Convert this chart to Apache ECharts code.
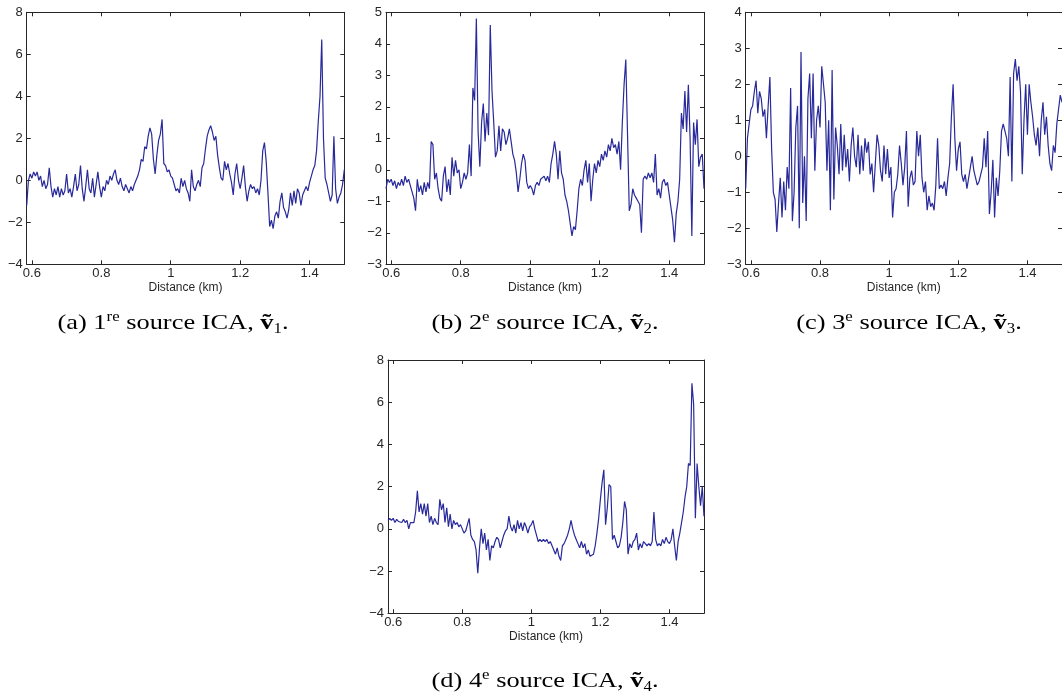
<!DOCTYPE html>
<html><head><meta charset="utf-8">
<script src="https://cdn.jsdelivr.net/npm/echarts@6/dist/echarts.min.js"></script>
<style>html,body{margin:0;padding:0;background:#fff}#c{width:1062px;height:694px}</style>
</head><body><div id="c"></div>
<script>
// ---- data ----
const distanceStart = 0.585;   // km, first sample
const distanceStep = 0.005;    // km between samples
const xTickValues = [0.6, 0.8, 1.0, 1.2, 1.4];
const xAxisName = 'Distance (km)';

const source1 = [
 -1.2, 0.0, 0.3, 0.1, 0.4, 0.2, 0.4, 0.0, 0.2, -0.3, 0.0, -0.4, -0.2, 0.6, -0.3, -0.8, -0.4, -0.7, -0.3, -0.8,
 -0.4, -0.7, -0.5, 0.3, -0.6, -0.4, -0.8, -0.3, 0.3, -0.5, -0.2, 0.7, -0.4, -1.0, -0.3, 0.5, -0.4, -0.6, 0.1, -0.8,
 -0.2, 0.4, -0.3, -0.8, -0.3, -0.5, 0.0, -0.2, 0.2, 0.0, 0.3, 0.5, 0.0, -0.2, 0.1, -0.3, -0.5, -0.2, -0.4, -0.6,
 -0.3, -0.5, -0.2, 0.0, 0.2, 0.5, 1.0, 0.9, 1.6, 1.5, 2.1, 2.5, 2.2, 1.0, 0.3, 1.2, 1.9, 2.2, 2.9, 0.8,
 0.7, 0.4, 0.5, 0.2, 0.1, -0.2, -0.5, -0.4, -0.6, 0.1, -0.3, 0.0, -0.4, -0.6, -1.0, 0.5, -0.3, -0.5, -0.2, 0.0,
 -0.3, 0.6, 0.8, 1.5, 2.1, 2.4, 2.6, 2.3, 1.9, 2.1, 1.2, 0.6, 0.1, 0.0, 0.9, 0.5, 0.8, 0.3, -0.1, -0.7,
 0.3, 0.8, 0.0, -0.4, 0.1, 0.7, -0.3, -1.0, -0.5, -0.2, -0.4, -0.3, -0.6, -0.4, -0.7, 0.0, 1.4, 1.8, 0.9, -0.6,
 -2.2, -1.9, -2.3, -1.7, -1.5, -1.8, -1.0, -0.6, -1.3, -1.5, -1.8, -1.4, -0.6, -1.2, -0.5, -1.1, -0.4, -0.6, -1.2, -0.7,
 -0.5, -0.3, -0.5, -0.1, 0.2, 0.5, 0.7, 1.4, 2.8, 4.0, 6.7, 2.0, 0.1, -0.2, -0.6, -1.0, -0.7, 2.1, -0.4, -1.1,
 -0.8, -0.6, -0.2, 0.5
];
const source2 = [
 -0.6, -0.3, -0.4, -0.3, -0.5, -0.35, -0.6, -0.4, -0.5, -0.3, -0.5, -0.2, -0.4, -0.3, -0.5, -0.7, -0.9, -1.3, -0.3, -0.7,
 -0.5, -0.8, -0.4, -0.7, -0.4, -0.6, 0.9, 0.8, -0.3, -0.1, -0.6, -0.9, -1.0, -0.2, 0.1, -0.7, -0.3, -0.8, 0.4, -0.2,
 0.3, -0.1, 0.0, -0.6, -0.4, -0.1, -0.3, -0.1, 0.8, -0.2, 2.6, 2.2, 4.8, 1.2, 0.1, 1.5, 2.1, 0.9, 1.8, 1.1,
 4.6, 2.5, 1.5, 0.4, 0.6, 1.4, 0.6, 1.3, 1.2, 0.8, 1.0, 1.3, 0.9, 0.5, 0.3, -0.1, -0.7, -0.3, 0.2, 0.5,
 0.3, -0.4, -0.6, -0.5, -0.6, -0.8, -0.5, -0.4, -0.5, -0.3, -0.3, -0.2, -0.35, -0.2, -0.4, 0.2, 0.5, 0.9, 0.5, -0.3,
 0.6, -0.1, -0.3, -0.8, -1.0, -1.3, -1.7, -2.1, -1.8, -1.9, -1.3, -0.6, -0.3, -0.5, 0.0, 0.3, -0.4, 0.2, -1.0, -0.3,
 0.2, -0.1, 0.3, 0.1, 0.5, 0.3, 0.6, 0.4, 0.8, 0.6, 1.0, 0.7, 0.8, 0.5, 0.9, 0.0, 1.5, 2.7, 3.5, 1.1,
 -1.3, -1.1, -0.6, -0.8, -0.9, -1.0, -1.1, -2.0, -0.3, -0.2, -0.3, -0.1, -0.25, -0.1, -0.4, 0.5, -0.8, -0.6, -0.9, -0.4,
 -0.3, -0.5, -0.4, -0.8, -1.2, -1.6, -2.3, -1.4, -1.0, -0.3, 1.8, 1.3, 2.5, 1.2, 2.7, 1.0, -2.1, 1.5, 0.8, 1.6,
 0.1, 0.4, 0.5, -0.6
];
const source3 = [
 -0.9, 0.5, 0.9, 1.3, 1.4, 1.8, 2.1, 1.2, 1.8, 1.6, 1.1, 1.3, 0.5, 1.4, 2.2, 0.2, -1.0, -1.2, -2.1, -1.3,
 -0.6, -1.7, -0.7, -1.5, -0.3, -0.9, 1.9, -1.8, -1.0, 0.8, 1.4, -2.0, 2.9, -1.3, 0.0, -1.8, 1.6, 2.3, 0.5, 2.3,
 -0.4, 1.0, 1.4, 0.8, 2.5, 2.0, 1.5, -0.4, 1.0, -1.5, 2.4, -1.2, 0.8, 0.3, -0.5, 0.9, -0.4, 0.6, -0.3, 0.2,
 -0.7, 0.3, 0.8, 0.0, -0.3, 0.6, -0.5, 0.3, -0.4, 0.5, 0.1, 0.4, -0.5, -0.2, -1.0, -0.2, 0.6, 0.3, -0.4, -0.7,
 0.3, -0.5, 0.2, -0.6, -0.3, -1.7, -1.0, -0.9, -0.5, 0.3, -0.2, -0.8, -0.3, 0.7, -1.4, -0.6, -0.4, -0.8, -0.7, 0.7,
 0.0, 0.6, -0.6, -1.0, -0.7, -1.5, -1.1, -1.4, -1.3, -1.5, -0.8, 0.5, -0.9, -0.8, -0.9, -0.7, -1.1, -0.6, -0.2, 1.1,
 2.0, 0.5, -0.4, 0.2, 0.4, -0.5, -0.7, -0.5, -0.9, -0.6, -0.3, 0.0, -0.4, -0.6, -0.8, -0.7, -0.5, -0.3, 0.5, -0.3,
 0.7, -1.6, -1.0, -0.1, -1.7, -0.6, -1.1, -0.4, 0.7, 0.9, 0.7, 0.5, 0.0, 2.2, -0.7, 2.3, 2.7, 2.1, 2.5, 1.8,
 -0.5, 1.0, 2.0, 0.6, 2.0, 1.5, 1.1, 0.6, 0.3, 0.8, 0.0, 1.0, 1.5, 0.6, 1.1, 0.3, -0.2, -0.4, 0.3, 0.1,
 0.9, 1.3, 1.7, 1.5
];
const source4 = [
 0.4, 0.5, 0.4, 0.5, 0.3, 0.45, 0.35, 0.4, 0.3, 0.45, 0.3, 0.4, 0.0, 0.3, 0.35, 0.3, 0.8, 1.8, 0.8, 1.2,
 0.7, 1.2, 0.6, 1.2, 0.3, 0.6, 0.2, 0.5, 0.3, 0.2, 1.4, 0.9, 1.2, 0.3, 1.0, 0.1, 0.7, 0.0, 0.4, 0.2,
 0.3, 0.1, 0.2, 0.0, -0.2, -0.1, 0.2, 0.5, -0.3, -0.5, -0.6, -1.0, -2.1, -0.9, 0.0, -0.7, -0.2, -1.0, -0.5, -1.5,
 -0.8, -0.9, -0.6, -0.4, -0.5, -0.9, -0.6, -0.3, -0.1, 0.0, 0.6, 0.1, -0.1, 0.2, -0.2, 0.4, 0.0, 0.3, -0.1, 0.3,
 0.1, -0.2, 0.1, 0.2, 0.4, 0.0, -0.3, -0.6, -0.5, -0.6, -0.5, -0.6, -0.5, -0.7, -0.6, -0.8, -1.0, -1.2, -0.9, -1.3,
 -1.5, -0.8, -0.7, -0.5, -0.3, 0.0, 0.4, 0.0, -0.3, -0.5, -0.7, -0.9, -0.6, -0.9, -0.7, -1.2, -1.0, -1.3, -1.3, -1.2,
 -0.8, -0.2, 0.5, 1.4, 2.2, 2.8, 0.2, 1.0, 2.1, 2.0, -0.5, -0.3, -0.6, -0.9, -0.8, -0.4, 0.3, 1.3, 0.9, -1.2,
 -0.7, -0.9, -0.6, -0.5, -0.2, -1.0, -0.7, -0.9, -0.6, -0.7, -0.8, -0.7, -0.8, -0.6, 0.8, -0.5, -0.8, -0.7, -0.8, -0.5,
 -0.7, -0.4, -0.6, -0.7, -0.5, 0.0, -0.8, -1.5, -0.6, -0.2, 0.3, 0.8, 1.5, 2.0, 3.1, 3.0, 6.9, 5.9, 0.5, 3.1,
 2.0, 1.1, 2.0, 0.6
];

const yRanges = [
  {min: -4, max: 8, interval: 2},
  {min: -3, max: 5, interval: 1},
  {min: -3, max: 4, interval: 1},
  {min: -4, max: 8, interval: 2}
];
const captionLetters = ['(a)', '(b)', '(c)', '(d)'];
const captionOrdinals = [['1', 're'], ['2', 'e'], ['3', 'e'], ['4', 'e']];
const captionIndices = ['1', '2', '3', '4'];

// ---- layout / style ----
const grids = [
  {left: 26.7, top: 12.3, width: 317.6, height: 252},
  {left: 386, top: 12.3, width: 318, height: 252},
  {left: 745.7, top: 12.3, width: 318, height: 252},
  {left: 388, top: 360, width: 316, height: 253.3}
];
const captionPos = [[173, 323], [545, 323], [909, 323], [545, 681]];
const captionStretch = 1.2;
const lineColor = '#28299a';
const axisColor = '#262626';
const sansFont = 'Liberation Sans, Arial, Helvetica, sans-serif';
const serifFont = 'Liberation Serif, DejaVu Serif, serif';

const allSeries = [source1, source2, source3, source4];
const xMin = distanceStart, xMax = 1.5;

function fmtX(v) { return String(Math.round(v * 10) / 10); }
function fmtY(v) { return String(v).replace('-', '\u2212'); }

const option = {animation: false, backgroundColor: '#fff', grid: [], xAxis: [], yAxis: [], series: [], graphic: []};

grids.forEach((g, i) => {
  option.grid.push(Object.assign({containLabel: false}, g));
  const common = {
    gridIndex: i, type: 'value', min: xMin, max: xMax,
    splitLine: {show: false},
    axisLine: {show: true, onZero: false, lineStyle: {color: axisColor, width: 1}},
    axisTick: {show: true, inside: true, length: 4, customValues: xTickValues, lineStyle: {color: axisColor, width: 1}}
  };
  option.xAxis.push(Object.assign({}, common, {
    position: 'bottom',
    axisLabel: {show: true, customValues: xTickValues, formatter: fmtX, color: axisColor, fontSize: 13, fontFamily: sansFont, margin: 3},
    name: xAxisName, nameLocation: 'middle', nameGap: 16,
    nameTextStyle: {fontSize: 12, color: axisColor, fontFamily: sansFont}
  }));
  option.xAxis.push(Object.assign({}, common, {position: 'top', axisLabel: {show: false}}));
  const yc = {
    gridIndex: i, type: 'value', min: yRanges[i].min, max: yRanges[i].max, interval: yRanges[i].interval,
    splitLine: {show: false},
    axisLine: {show: true, onZero: false, lineStyle: {color: axisColor, width: 1}},
    axisTick: {show: true, inside: true, length: 4, lineStyle: {color: axisColor, width: 1}}
  };
  option.yAxis.push(Object.assign({}, yc, {
    position: 'left',
    axisLabel: {show: true, formatter: fmtY, color: axisColor, fontSize: 13, fontFamily: sansFont, margin: 4}
  }));
  option.yAxis.push(Object.assign({}, yc, {position: 'right', axisLabel: {show: false}}));

  const data = allSeries[i].map((y, k) => [Math.round((distanceStart + k * distanceStep) * 1000) / 1000, y]);
  option.series.push({
    type: 'line', xAxisIndex: 2 * i, yAxisIndex: 2 * i, data: data,
    showSymbol: false, symbol: 'none', sampling: null,
    lineStyle: {color: lineColor, width: 1.2}, itemStyle: {color: lineColor}
  });

  const text = '{n|' + captionLetters[i] + ' ' + captionOrdinals[i][0] + '}{sup|' + captionOrdinals[i][1] +
    '}{n| source ICA, }{v|\u1E7D}{sub|' + captionIndices[i] + '}{n|.}';
  option.graphic.push({
    type: 'text', x: captionPos[i][0], y: captionPos[i][1], scaleX: captionStretch,
    style: {
      text: text, align: 'center', verticalAlign: 'middle', fill: '#000',
      rich: {
        n: {fontSize: 22, fontFamily: serifFont, lineHeight: 26, verticalAlign: 'middle', fill: '#000'},
        sup: {fontSize: 14, fontFamily: serifFont, lineHeight: 14, verticalAlign: 'top', fill: '#000'},
        v: {fontSize: 22, fontFamily: serifFont, fontWeight: 'bold', lineHeight: 26, verticalAlign: 'middle', fill: '#000'},
        sub: {fontSize: 14, fontFamily: serifFont, lineHeight: 14, verticalAlign: 'bottom', fill: '#000'}
      }
    }
  });
});

const chart = echarts.init(document.getElementById('c'), null, {renderer: 'canvas'});
chart.setOption(option);
</script>
</body></html>
